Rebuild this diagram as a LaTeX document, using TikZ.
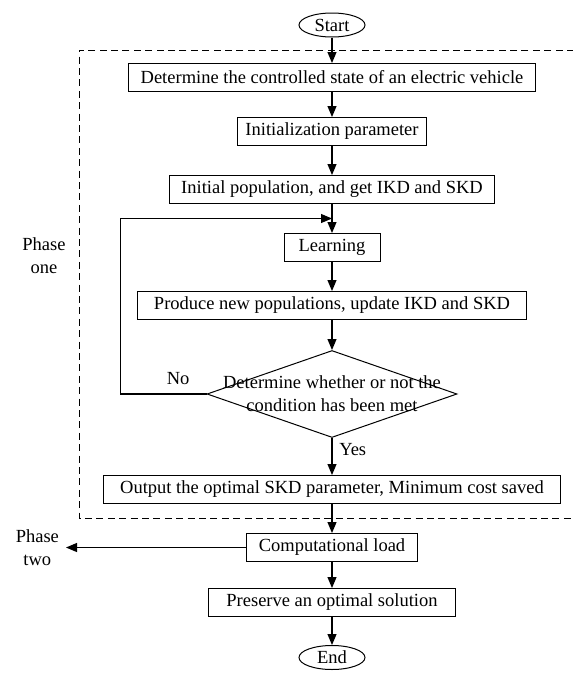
\documentclass[tikz,border=0pt]{standalone}
\usepackage{fontspec}
\setmainfont{Liberation Serif}
\usetikzlibrary{arrows.meta,positioning,shapes.geometric}
\tikzset{
  blk/.style={draw, line width=.5pt, fill=white, align=center, inner sep=2pt, minimum height=14pt, font=\fontsize{9.25pt}{11.5pt}\selectfont},
  term/.style={blk, ellipse, inner sep=0pt, text height=6.3pt, text depth=0pt, minimum width=33pt, minimum height=12pt},
  dec/.style={draw, diamond, line width=.5pt, minimum width=125pt, minimum height=43.5pt, inner sep=0pt},
  ar/.style={-{Triangle[length=5.5pt, width=4.5pt]}, line width=.6pt},
  lbl/.style={font=\fontsize{9.25pt}{11.5pt}\selectfont, align=center},
  frame/.style={dash pattern=on 3.5pt off 2.2pt, line width=.5pt},
}
\begin{document}
\begin{tikzpicture}[node distance=14.5pt]
    \useasboundingbox (0,0) rectangle (286.5pt,-337.5pt);
    \node[term] (start) at (166pt,-12.5pt) {Start};
    \node[blk, below=12.75pt of start, minimum width=203.5pt] (ctrl) {Determine the controlled state of an electric vehicle};
    \node[blk, below=12.5pt of ctrl, minimum width=94.5pt] (init) {Initialization parameter};
    \node[blk, below=of init, minimum width=162.5pt] (pop) {Initial population, and get IKD and SKD};
    \node[blk, below=of pop, minimum width=48pt] (learn) {Learning};
    \node[blk, below=of learn, minimum width=194.5pt] (upd) {Produce new populations, update IKD and SKD};
    \node[dec, below=15pt of upd] (cond) {};
    \node[lbl] (condtxt) at (cond) {Determine whether or not the\\condition has been met};
    \node[blk, below=18.5pt of cond, minimum width=228.5pt] (out) {Output the optimal SKD parameter, Minimum cost saved};
    \node[blk, below=of out, minimum width=85.5pt] (load) {Computational load};
    \node[blk, below=13pt of load, minimum width=123.5pt] (keep) {Preserve an optimal solution};
    \node[term, below=14pt of keep] (stop) {End};

    % phase labels
    \node[lbl] (ph1) at (22pt,-128pt) {Phase\\one};
    \node[lbl, left=90pt of load] (ph2) {Phase\\two};

    % phase one frame (right side cut by the page)
    \draw[frame] (287pt,-25pt) -- (39.5pt,-25pt) -- (39.5pt,-259pt) -- (287pt,-259pt);

    \foreach \a/\b in {start/ctrl, ctrl/init, init/pop, pop/learn, learn/upd, upd/cond, out/load, load/keep, keep/stop}{\draw[ar] (\a)--(\b);}
    \path (pop.south) -- coordinate[pos=.5] (join) (learn.north);
    \draw[ar] (cond.west) -- node[lbl, above, pos=.33, yshift=1pt] {No} ++(-43pt,0) |- (join);
    \draw[ar] (cond) -- node[lbl, right, pos=.3] {Yes} (out);
    \draw[ar] (load) -- (ph2);
  \end{tikzpicture}
\end{document}
